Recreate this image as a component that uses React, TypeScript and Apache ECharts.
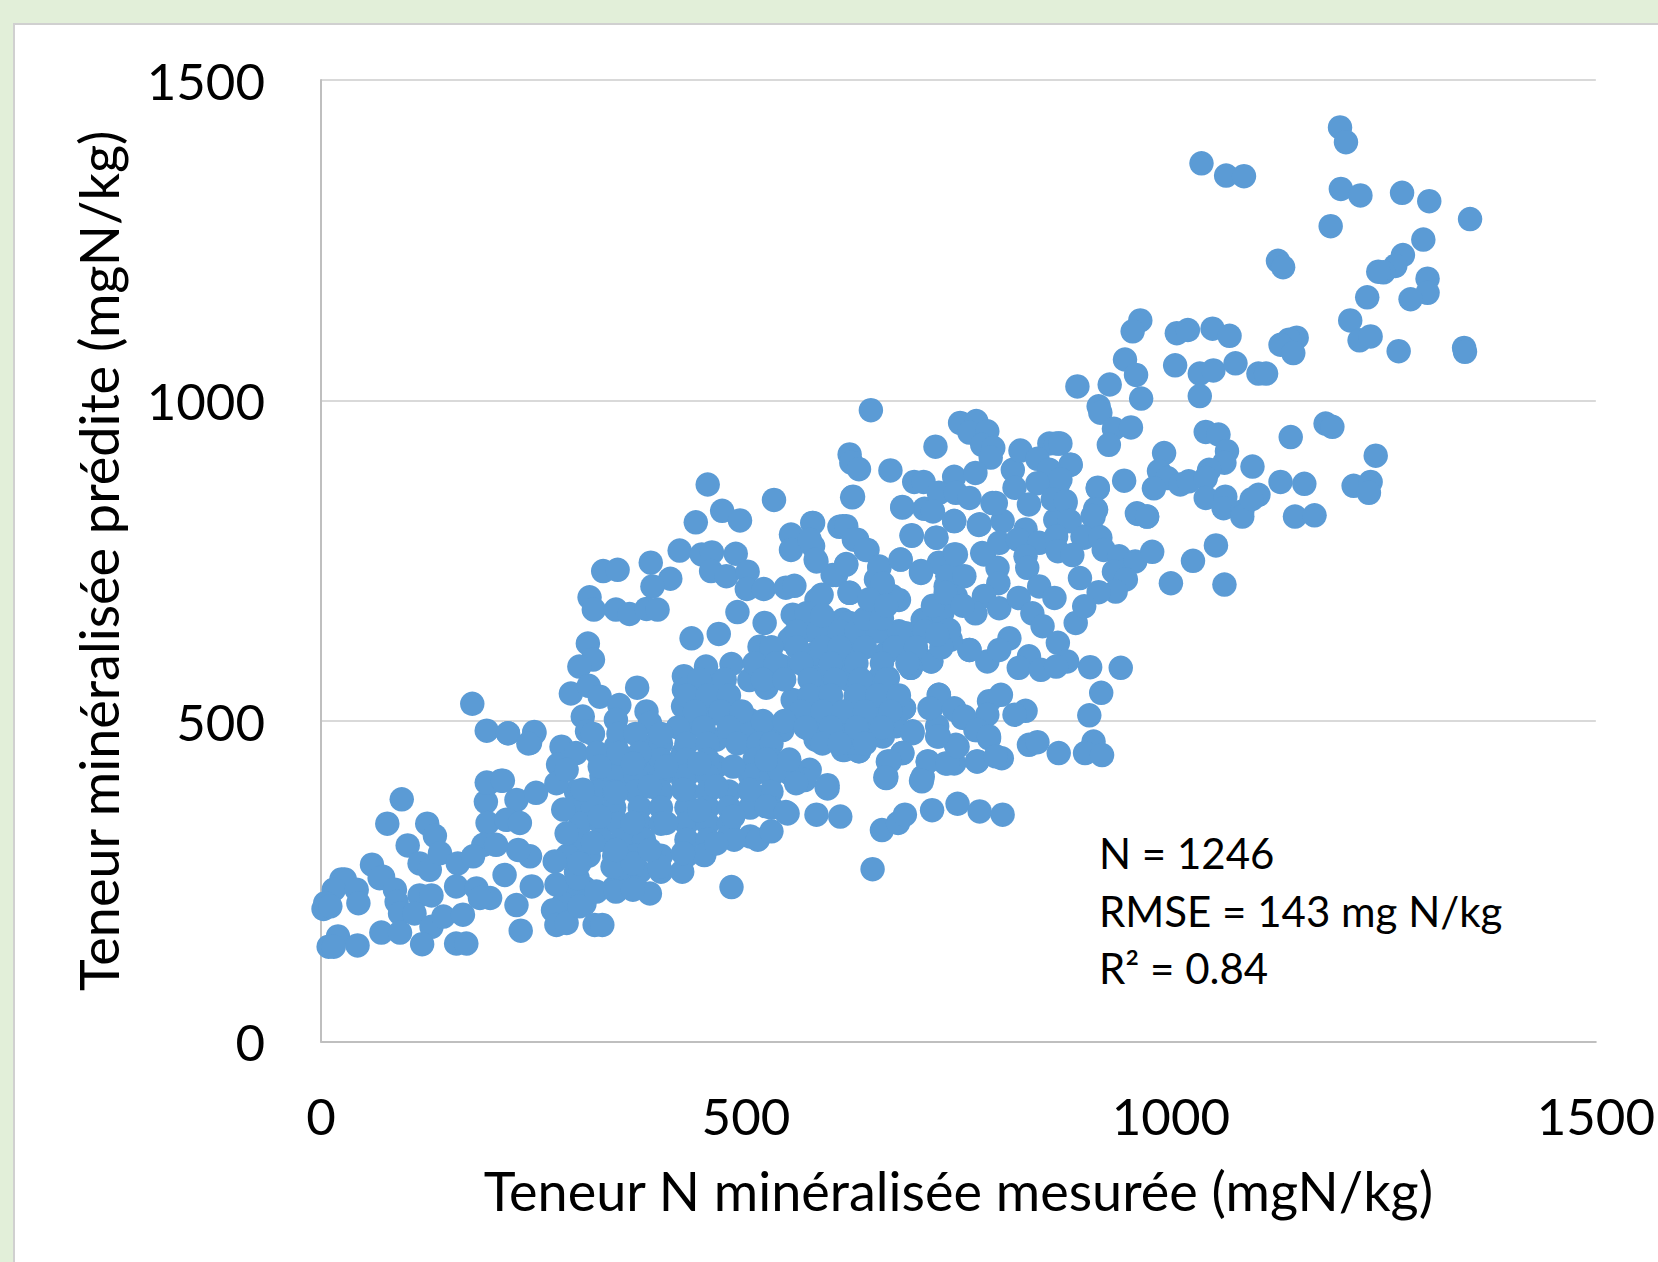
import React, { useEffect, useRef } from "react";
import * as echarts from "echarts";

const FONT = "Lato";
const xTitle = "Teneur N minéralisée mesurée (mgN/kg)";
const yTitle = "Teneur minéralisée prédite (mgN/kg)";
const notes = ["N = 1246", "RMSE = 143 mg N/kg", "R² = 0.84"];

const upperRight = [
[1199,1426],[1206,1403],[1036,1370],[1065,1351],[1086,1350],[1200,1330],[1223,1320],[1272,1324],[1304,1311],[1352,1283],[1188,1272],[1297,1251],[1273,1227],[1264,1210],[1250,1200],[1244,1201],[1126,1218],[1132,1208],[1302,1190],[1302,1168],[1282,1158],[1231,1161],[1211,1125],[964,1125],[955,1108],[1007,1105],[1020,1110],[1049,1112],[1069,1101],[1148,1098],[1139,1095],[1129,1087],[1144,1074],[1222,1094],[1235,1100],[1268,1077],[1345,1082],[1346,1076],[946,1064],[959,1040],[1005,1055],[1034,1042],[1050,1047],[1076,1058],[1103,1042],[1112,1042],[890,1022],[928,1025],[965,1003],[1034,1007],[915,991],[917,981],[933,956],[953,958],[927,931],[868,933],[857,933],[1041,951],[1056,947],[1066,921],[1063,903],[1045,892],[992,918],[986,890],[996,879],[1011,869],[1021,874],[1041,879],[980,863],[1096,897],[1129,873],[1157,870],[1141,943],[1182,964],[1190,959],[1241,914],[1215,867],[1235,873],[1233,856],[945,875],[914,863],[882,900],[911,831],[909,819],[960,824],[972,819],[1041,848],[1064,850],[1062,832],[1084,827],[1084,819],[1103,853],[1095,846],[1146,819],[1169,821],[880,812],[868,851],[860,877],[868,872],[876,840],[864,814],[915,788],[896,788],
];

const middleRight = [
[647,985],[752,965],[771,968],[763,950],[784,952],[778,931],[791,926],[788,911],[723,928],[622,916],[624,903],[633,893],[670,891],[698,873],[709,873],[626,850],[745,881],[770,887],[814,892],[823,922],[843,909],[865,933],[870,933],[882,900],[857,892],[870,877],[843,871],[816,864],[833,838],[861,846],[876,843],[914,864],[912,830],[908,820],[961,823],[972,819],[881,812],[684,834],[710,831],[727,856],[747,856],[763,848],[790,840],[745,812],[720,827],[775,807],[802,812],[829,799],[579,809],[614,804],[631,783],[643,767],[579,773],[583,749],[618,745],[602,728],[695,790],[724,786],[682,752],[706,731],[657,739],[745,760],[727,747],[780,760],[798,778],[820,783],[845,778],[865,788],[898,786],[917,786],[867,765],[884,759],[829,757],[921,767],[939,757],[958,749],[978,764],[933,733],[947,721],[935,702],[915,701],[893,723],[1000,715],[1026,750],[1053,774],[1063,713],[831,739],[796,739],[797,715],[751,726],[735,710],[747,694],[780,695],[770,668],[798,676],[821,692],[845,710],[863,692],[837,668],[849,648],[888,653],[898,679],[867,622],[878,593],[905,584],[941,583],[918,544],[904,509],[909,468],[899,450],[919,447],[868,450],[833,463],[843,467],[801,442],[772,437],[829,516],[816,510],[786,531],[800,541],[784,510],[786,473],[770,486],[745,434],[714,437],[708,413],[735,434],[747,463],[755,505],[727,541],[718,520],[745,520],[725,492],[727,476],[763,611],[784,593],[810,629],[798,611],[833,601],[821,583],[847,580],[865,585],[718,593],[694,583],[739,627],[686,520],[696,484],[684,450],[667,437],[665,414],[633,453],[616,455],[575,424],[596,400],
];

const denseRight = [
[583,689],[622,700],[653,721],[680,689],[731,679],[708,658],[688,637],[653,658],[614,658],[575,642],[594,606],[633,622],[665,606],[700,611],[614,575],[575,575],[657,567],[590,533],[629,539],[665,523],[575,487],[606,492],[641,487],[677,492],
];

const middleLeft = [
[455,869],[472,828],[493,813],[441,810],[533,845],[625,849],[684,833],[332,734],[349,736],[388,747],[422,766],[411,722],[390,710],[448,760],[460,763],[459,734],[488,761],[477,726],[502,733],[501,706],[521,706],[547,708],[557,711],[316,693],[321,674],[347,674],[363,667],[383,675],[396,674],[490,670],[553,791],[553,767],[578,809],[575,783],[582,752],[610,803],[618,804],[627,783],[641,767],[606,728],[618,744],[622,700],[589,697],[657,741],[682,752],[706,734],[695,789],[724,786],[745,812],[672,695],[661,715],[716,658],[737,726],[747,760],[757,726],[743,695],[778,762],[774,806],[794,840],[436,629],[468,636],[314,621],[320,596],[304,585],[294,543],[315,555],[328,538],[308,507],[313,484],[372,552],[351,525],[383,515],[427,570],[427,549],[453,585],[483,589],[516,616],[522,653],[555,666],[763,611],[741,627],[718,593],[694,583],[667,567],[727,541],[716,520],[745,518],[757,507],[772,437],[686,520],[696,481],[684,450],[669,437],[665,411],[714,437],[707,406],[737,434],[749,460],[725,476],[772,486],[596,395],[614,455],[633,453],[569,408],[246,466],[251,481],[220,481],[283,460],
];

const denseCentre = [
[347,502],[347,460],[347,419],[387,497],[387,460],[387,419],[426,523],[426,486],[426,450],[426,408],[465,554],[465,512],[465,471],[465,429],[504,564],[504,502],[504,481],[512,419],[543,585],[555,533],[543,486],[524,471],[551,419],[582,653],[582,606],[586,564],[575,512],[582,471],[622,653],[622,606],[622,564],[622,512],[625,466],[661,642],[661,601],[649,554],[657,512],[661,476],[700,637],[731,668],[739,642],[555,632],[551,627],[571,668],[786,476],[794,445],
];

const denseFill = [
[560,640],[585,640],[610,640],[630,640],[655,640],[680,640],[710,640],
[530,615],[560,615],[590,615],[610,615],[640,615],[675,615],[700,615],[730,615],
[510,590],[535,590],[565,590],[600,590],[630,590],[660,590],[690,590],
[445,565],[475,565],[524,552],[520,565],[545,565],[575,565],[605,565],[635,565],[665,565],
[430,540],[455,540],[480,540],[575,540],[600,540],[630,540],[655,540],[680,540],
[440,515],[470,515],[495,515],[565,515],[590,515],[615,515],[640,515],[670,515],
[420,490],[450,490],[480,490],[520,500],[545,500],[570,490],[600,490],[630,490],[660,490],
[400,465],[430,465],[455,465],[490,465],[515,465],[530,465],[590,465],[610,465],[640,465],
[370,440],[400,440],[430,440],[455,440],[510,440],[530,440],
[330,415],[350,415],[370,415],[400,415],[430,415],[455,415],[505,415],[530,415],[555,415],
[300,390],[325,390],[345,390],[370,390],[400,390],[430,390],[455,390],[480,390],[505,390],[530,390],
[300,365],[320,365],[345,365],[375,365],[400,365],[430,365],[455,365],[480,365],[505,365],[530,365],
[305,340],[330,340],[350,340],[375,340],[400,340],[430,340],[455,340],[480,340],
[300,315],[330,315],[355,315],[380,315],[430,315],[455,315],[480,320],[505,320],
[290,290],[315,290],[345,290],[370,290],[400,290],[430,290],
[300,265],[350,265],[375,265],[400,265],
[290,240],[310,240],[345,240],[370,240],
[285,215],[310,215],
[320,480],[350,480],[370,480],[400,480],[300,450],[325,450],[350,450],[375,450],
[590,665],[640,660],[660,660],[645,690],[665,680],[720,680],[735,700],[755,680],[725,635],
];

const lowerLeft = [
[95,378],[78,340],[125,340],[134,321],[102,306],[60,276],[24,253],[28,253],[15,237],[42,237],[5,216],[3,207],[11,211],[44,216],[73,257],[69,255],[87,237],[89,218],[116,278],[128,268],[140,294],[161,278],[116,228],[130,228],[93,200],[71,170],[93,170],[110,200],[130,179],[119,152],[144,195],[159,242],[167,198],[159,153],[171,153],[20,164],[9,148],[15,148],[43,150],[183,239],[199,224],[187,224],[216,260],[230,213],[235,173],[248,242],[246,289],[232,299],[197,403],[212,407],[194,374],[196,341],[191,307],[179,289],[206,307],[230,377],[253,388],[218,346],[234,341],[275,281],[277,245],[273,205],[277,182],[289,185],[302,255],[304,278],[304,211],[322,182],[331,182],[343,273],[324,234],[347,234],[387,231],[367,237],[398,273],[425,265],[483,241],[451,291],[486,315],[514,315],[530,328],[549,356],[279,432],[277,403],[285,362],[426,294],[465,309],[367,278],[347,299],[387,299],[320,310],[289,325],[328,351],[367,341],[406,341],[445,361],[485,351],[524,367],[308,393],[347,388],[387,398],[426,393],[465,398],[504,393],[539,424],[289,424],[328,429],[367,434],[406,429],[445,434],[485,429],[524,440],[551,440],[559,403],
];

const lowerOutliers = [
[649,269],[660,330],[679,341],[687,354],[719,361],[749,371],[775,359],[802,354],[583,354],[611,351],[595,396],[664,412],[706,407],[547,358],[178,527],[195,485],[220,481],[251,483],[244,465],[195,404],[214,407],
];

const points = [...upperRight, ...middleRight, ...denseRight, ...middleLeft, ...denseCentre, ...denseFill, ...lowerLeft, ...lowerOutliers];

export default function App() {
  const ref = useRef<HTMLDivElement>(null);
  useEffect(() => {
    const chart = echarts.init(ref.current!, null, { renderer: "svg" });
    chart.setOption({
      animation: false,
      backgroundColor: "#e2efd9",
      graphic: [
        { type: "rect", z: -1, shape: { x: 14, y: 24, width: 1660, height: 1260 }, style: { fill: "#ffffff", stroke: "#d0d0d0", lineWidth: 2 } },
        ...notes.map((t, i) => ({
          type: "text", left: 1099, top: 832 + i * 57.6, z: 10,
          style: { text: t, fill: "#000000", font: `42px ${FONT}` },
        })),
      ],
      grid: { left: 321, top: 80, right: 57, bottom: 220.4 },
      xAxis: {
        type: "value", min: 0, max: 1500, interval: 500,
        name: xTitle, nameLocation: "middle", nameGap: 122,
        nameTextStyle: { fontFamily: FONT, fontSize: 54, color: "#000" },
        axisLine: { show: true, onZero: false, lineStyle: { color: "#bfbfbf", width: 2 } },
        axisTick: { show: false },
        axisLabel: { fontFamily: FONT, fontSize: 51, color: "#000", margin: 48, formatter: (v: number) => String(v) },
        splitLine: { show: false },
      },
      yAxis: {
        type: "value", min: 0, max: 1500, interval: 500,
        name: yTitle, nameLocation: "middle", nameGap: 196,
        nameTextStyle: { fontFamily: FONT, fontSize: 54, color: "#000" },
        axisLine: { show: true, onZero: false, lineStyle: { color: "#bfbfbf", width: 2 } },
        axisTick: { show: false },
        axisLabel: { fontFamily: FONT, fontSize: 51, color: "#000", margin: 56, padding: [0, 0, 6, 0], formatter: (v: number) => String(v) },
        splitLine: { show: true, lineStyle: { color: "#d9d9d9", width: 2 } },
      },
      series: [{
        type: "scatter", data: points, symbol: "circle", symbolSize: 24.5, clip: false,
        itemStyle: { color: "#5b9bd5", opacity: 1 }, z: 5,
      }],
    });
    return () => chart.dispose();
  }, []);
  return <div ref={ref} style={{ position: "absolute", left: 0, top: 0, width: 1658, height: 1262 }} />;
}
